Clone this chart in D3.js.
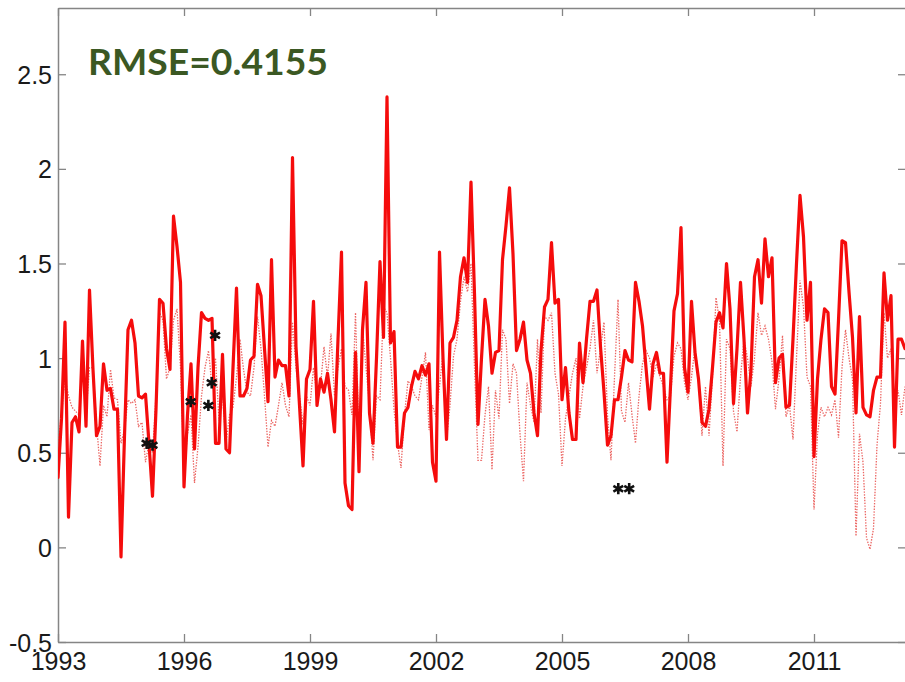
<!DOCTYPE html>
<html>
<head>
<meta charset="utf-8">
<script src="https://cdn.jsdelivr.net/npm/d3@7"></script>
<style>
  html, body { margin: 0; padding: 0; background: #fff; }
  svg { display: block; }
</style>
</head>
<body>
<svg id="chart" width="905" height="682"></svg>
<script>
// ---- data (monthly, starting Jan 1993) ----
const startYear = 1993;
const observed = [
  0.37,0.68,1.19,0.16,0.66,0.69,0.61,1.09,0.64,1.36,0.94,0.59,0.64,0.97,0.83,0.84,0.73,0.73,-0.05,0.59,
  1.15,1.20,1.08,0.80,0.79,0.81,0.55,0.27,0.73,1.31,1.29,1.05,0.94,1.75,1.59,1.40,0.32,0.70,0.97,0.52,
  0.95,1.24,1.21,1.20,1.21,0.55,0.55,1.02,0.52,0.50,0.95,1.37,0.80,0.80,0.84,0.99,1.01,1.39,1.33,1.05,
  0.77,1.52,0.90,0.99,0.96,0.96,0.80,2.06,1.06,0.75,0.43,0.89,0.94,1.30,0.75,0.89,0.82,0.92,0.78,0.61,
  1.10,1.56,0.34,0.22,0.20,1.03,0.40,1.15,1.40,0.71,0.55,1.00,1.51,1.11,2.38,1.08,1.14,0.53,0.53,0.71,
  0.74,0.85,0.93,0.89,0.96,0.91,0.97,0.45,0.35,1.56,1.00,0.57,1.08,1.11,1.20,1.43,1.53,1.40,1.93,1.34,
  0.65,1.00,1.31,1.17,0.92,1.03,1.04,1.52,1.70,1.90,1.55,1.04,1.10,1.19,0.99,0.92,0.71,0.59,1.04,1.27,
  1.31,1.61,1.29,1.31,0.78,0.95,0.71,0.57,0.57,1.08,0.87,1.10,1.30,1.30,1.36,1.06,0.82,0.54,0.59,0.78,
  0.78,0.90,1.04,0.99,0.98,1.40,1.30,1.17,0.95,0.73,0.97,1.03,0.92,0.92,0.45,0.85,1.25,1.34,1.69,0.95,
  0.82,1.30,1.03,0.89,0.66,0.64,0.73,0.95,1.19,1.24,1.16,1.50,1.26,0.76,1.05,1.40,1.10,0.71,0.94,1.43,
  1.52,1.29,1.63,1.43,1.53,0.87,1.00,1.02,0.74,0.75,1.10,1.50,1.86,1.64,1.20,1.40,0.48,0.89,1.10,1.26,
  1.24,0.85,0.81,1.20,1.62,1.61,1.35,1.11,0.71,1.22,0.74,0.70,0.69,0.83,0.90,0.90,1.45,1.20,1.33,0.53,
  1.10,1.10,1.05
];
const modelled = [
  0.55,0.70,0.90,0.80,0.74,0.72,0.70,0.95,0.70,0.95,0.95,0.65,0.43,0.75,0.69,0.94,0.79,0.78,0.55,0.62,
  0.78,0.76,0.78,0.64,0.66,0.45,0.55,0.50,0.80,1.24,1.20,0.89,0.95,1.20,1.26,0.95,0.40,0.60,0.70,0.34,
  0.53,0.80,0.95,1.04,0.85,1.00,0.67,0.80,0.55,0.70,0.74,0.90,1.10,0.94,0.82,0.80,0.95,1.22,1.05,0.80,
  0.53,0.67,0.64,0.75,0.87,0.75,0.69,1.19,0.95,0.80,0.65,0.80,0.75,0.95,0.80,0.85,1.06,0.90,1.13,0.80,
  0.95,1.05,0.85,0.83,0.70,1.24,0.57,1.16,0.95,0.75,0.46,0.80,0.78,1.27,1.24,1.00,0.73,0.55,0.42,0.70,
  0.88,0.85,0.80,0.78,0.90,1.03,0.62,0.75,0.69,0.85,1.03,0.57,0.75,1.01,1.10,1.30,1.43,1.35,1.50,0.95,
  0.46,0.46,0.70,0.85,0.41,0.83,0.68,1.15,1.10,0.76,0.97,0.92,0.60,0.35,0.87,0.75,0.66,1.10,0.71,1.22,
  1.20,1.24,0.92,0.81,0.43,0.68,0.80,0.92,1.00,0.68,0.85,0.95,1.05,1.20,0.92,1.05,1.19,0.70,0.46,0.90,
  1.31,0.72,0.66,0.87,0.70,0.55,0.80,0.97,1.04,1.00,0.90,0.97,0.90,0.85,0.78,0.80,1.01,1.08,1.05,0.87,
  0.78,0.90,1.06,0.90,0.59,0.85,0.59,0.90,1.32,1.20,0.43,1.10,1.05,0.72,0.61,0.90,1.10,1.00,0.85,1.00,
  1.24,1.12,1.17,1.10,0.98,0.73,0.89,1.12,0.69,0.75,0.57,1.00,1.41,1.27,0.90,0.85,0.20,0.60,0.74,0.69,
  0.74,0.70,0.78,0.58,0.95,1.15,1.00,0.89,0.06,0.60,0.45,0.05,-0.01,0.10,0.54,0.76,1.24,1.00,1.05,0.75,
  0.83,0.70,0.85
];
const markerYears  = [1995.11, 1995.25, 1996.16, 1996.58, 1996.66, 1996.74, 2006.34, 2006.60];
const markerValues = [0.55, 0.54, 0.77, 0.75, 0.87, 1.12, 0.31, 0.31];
const xTickYears = [1993, 1996, 1999, 2002, 2005, 2008, 2011];
const yTickValues = [-0.5, 0, 0.5, 1, 1.5, 2, 2.5];
const titleText = "RMSE=0.4155";

// ---- layout ----
const svg = d3.select("#chart");
const pL = 58, pR = 906, pT = 8, pB = 642;
const x = d3.scaleLinear().domain([1993, 1993 + 848/42]).range([pL, pR]);
const y = d3.scaleLinear().domain([-0.5, 2.85]).range([pB, pT]);

svg.append("defs").append("clipPath").attr("id", "plotclip")
  .append("rect").attr("x", pL).attr("y", pT).attr("width", pR - pL).attr("height", pB - pT);

const axisColor = "#858585";
const tickLen = 8;

const axB = d3.axisBottom(x).tickValues(xTickYears).tickFormat(d3.format("d")).tickSizeInner(-tickLen).tickSizeOuter(0).tickPadding(10);
const axT = d3.axisTop(x).tickValues(xTickYears).tickFormat("").tickSizeInner(-tickLen).tickSizeOuter(0);
const axL = d3.axisLeft(y).tickValues(yTickValues).tickFormat(d => String(d)).tickSizeInner(-tickLen).tickSizeOuter(0).tickPadding(6);
const axR = d3.axisRight(y).tickValues(yTickValues).tickFormat("").tickSizeInner(-tickLen).tickSizeOuter(0);

function styleAxis(g) {
  g.select(".domain").attr("stroke", axisColor).attr("stroke-width", 1.5);
  g.selectAll(".tick line").attr("stroke", axisColor).attr("stroke-width", 1.3);
  g.selectAll(".tick text").attr("fill", "#1a1a1a")
    .style("font-family", "'Liberation Sans', Arial, sans-serif").style("font-size", "25px");
}
const gB = svg.append("g").attr("transform", `translate(0,${pB})`).call(axB).call(styleAxis);
gB.selectAll(".tick text").attr("dy", "0.72em");
svg.append("g").attr("transform", `translate(0,${pT})`).call(axT).call(styleAxis);
const gL = svg.append("g").attr("transform", `translate(${pL},0)`).call(axL).call(styleAxis);
gL.selectAll(".tick text").attr("dy", "0.36em");
svg.append("g").attr("transform", `translate(${pR},0)`).call(axR).call(styleAxis);

// lines
const plot = svg.append("g").attr("clip-path", "url(#plotclip)");
const line = d3.line().x((d, i) => x(startYear + i / 12)).y(d => y(d));

plot.append("path").datum(modelled)
  .attr("d", line).attr("fill", "none")
  .attr("stroke", "#e84a46").attr("stroke-width", 1.3)
  .attr("stroke-dasharray", "1.4,1.4").attr("opacity", 0.85);

plot.append("path").datum(observed)
  .attr("d", line).attr("fill", "none")
  .attr("stroke", "#f50c0c").attr("stroke-width", 3.2)
  .attr("stroke-linejoin", "round").attr("stroke-linecap", "round");

// markers
const star = d3.symbol().type(d3.symbolAsterisk).size(90);
plot.selectAll("path.mk").data(markerYears).join("path")
  .attr("class", "mk")
  .attr("transform", (d, i) => `translate(${x(d)},${y(markerValues[i])})`)
  .attr("d", star).attr("fill", "none").attr("stroke", "#111").attr("stroke-width", 2.6);

// title
svg.append("text").attr("x", 88).attr("y", 75)
  .attr("textLength", 240).attr("lengthAdjust", "spacingAndGlyphs")
  .style("font-family", "Lato, 'Open Sans', sans-serif").style("font-weight", "bold")
  .style("font-size", "37px").attr("fill", "#3b5823")
  .text(titleText);
</script>
</body>
</html>
